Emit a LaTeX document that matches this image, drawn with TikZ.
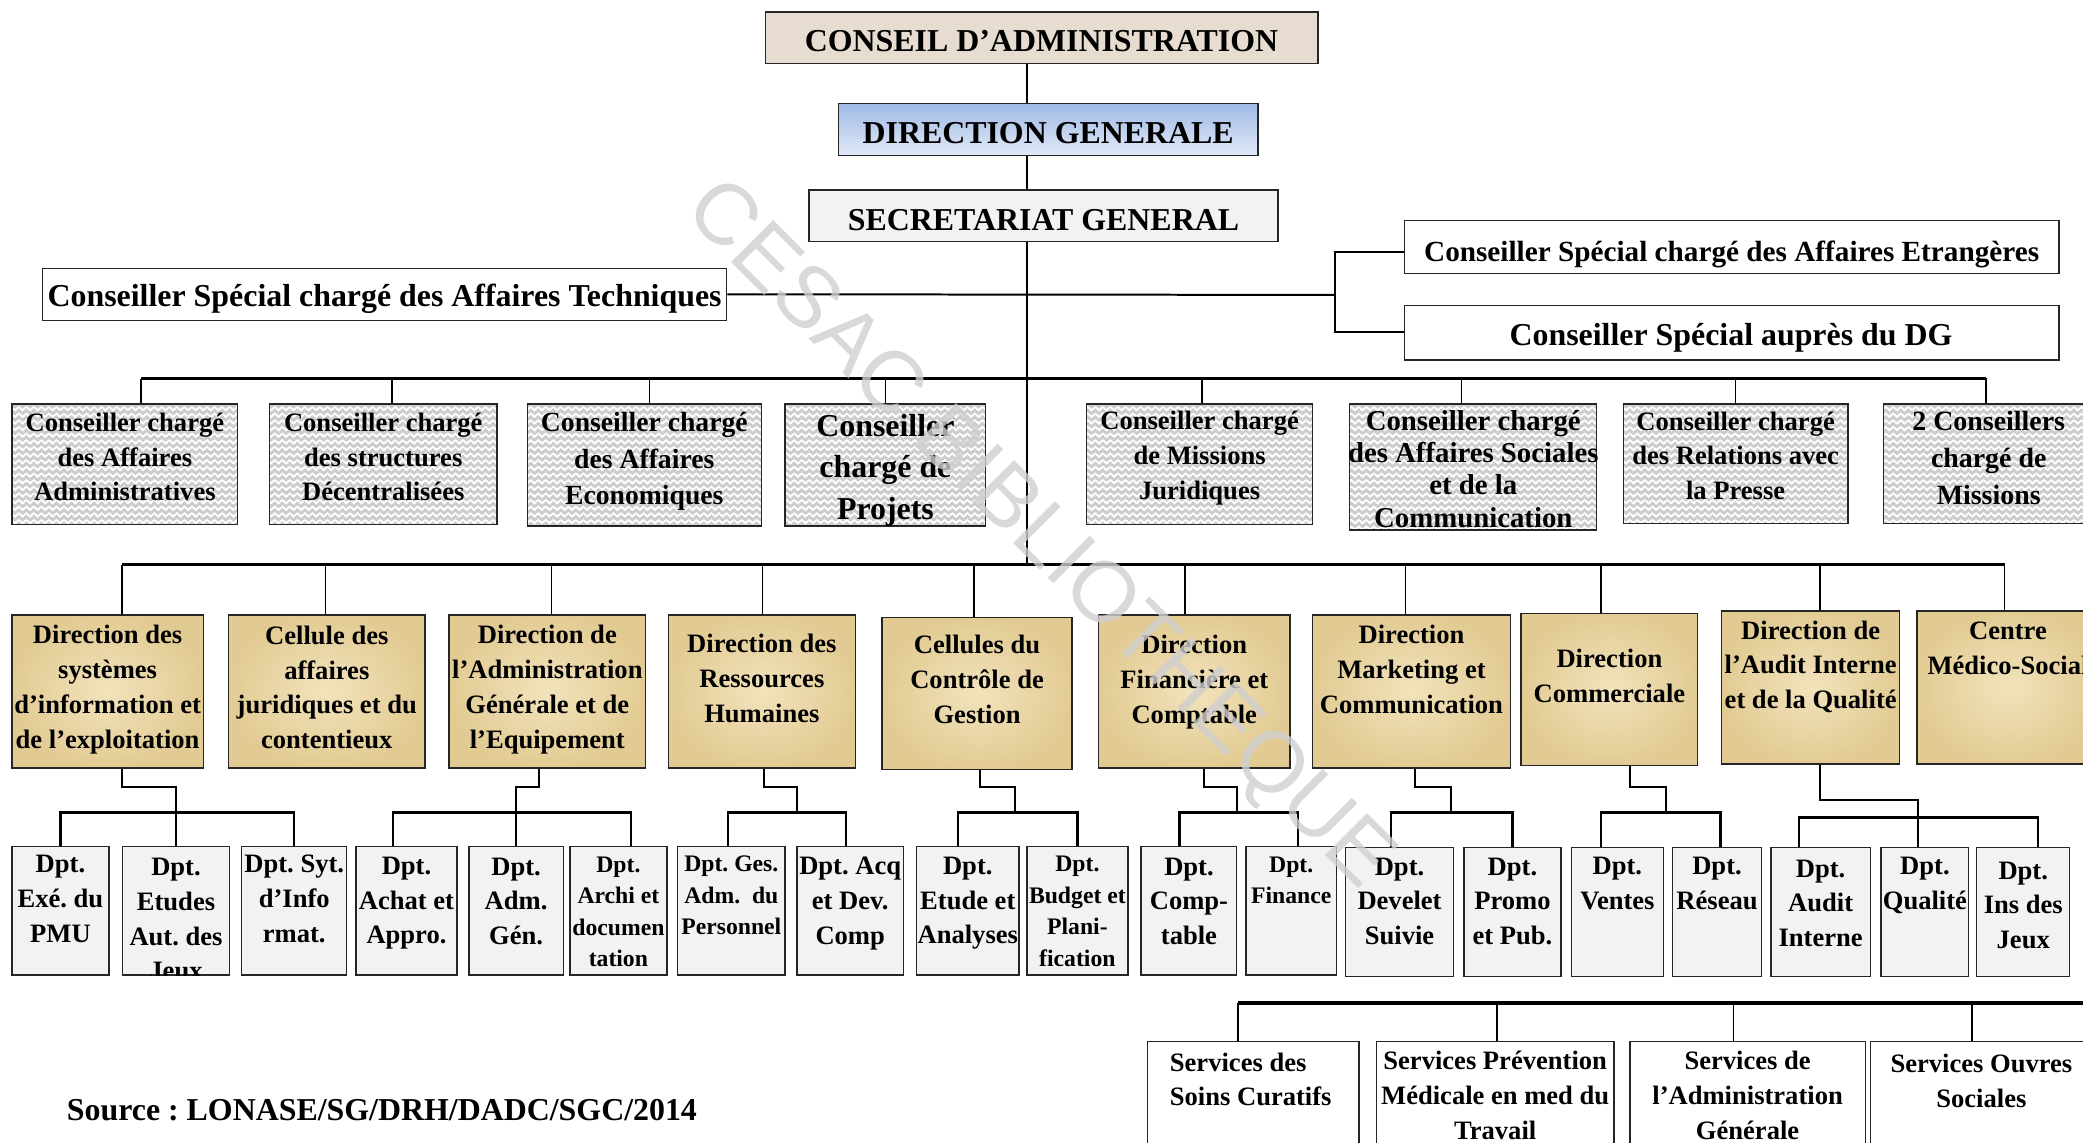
\documentclass[tikz,border=0pt]{standalone}
\usepackage{fontspec}
\setmainfont{Liberation Serif}
\newfontfamily\wmfont{Liberation Sans}
\usetikzlibrary{calc,fit,patterns,backgrounds}
\frenchspacing

\definecolor{caFill}{HTML}{E6DDD0}
\definecolor{dgTop}{HTML}{9FB9E6}
\definecolor{dgBot}{HTML}{E2EAF7}
\definecolor{sgFill}{HTML}{F2F2F2}
\definecolor{parchIn}{HTML}{F2E3BC}
\definecolor{parchOut}{HTML}{E2CB93}
\definecolor{csBg}{HTML}{CDCDCD}
\definecolor{dptFill}{HTML}{F2F2F2}
\definecolor{wmGray}{HTML}{CFCFCF}

% white zigzag lines laid over the grey advisers' boxes
\pgfdeclarepatternformonly{zigzag}{\pgfqpoint{-1pt}{0pt}}{\pgfqpoint{4.4pt}{3pt}}{\pgfqpoint{3.4pt}{3pt}}{%
  \pgfsetlinewidth{0.75pt}%
  \pgfpathmoveto{\pgfqpoint{-1pt}{1.6pt}}%
  \pgfpathlineto{\pgfqpoint{0pt}{0.7pt}}%
  \pgfpathlineto{\pgfqpoint{1.7pt}{2.2pt}}%
  \pgfpathlineto{\pgfqpoint{3.4pt}{0.7pt}}%
  \pgfpathlineto{\pgfqpoint{4.4pt}{1.6pt}}%
  \pgfusepath{stroke}%
}

\newcommand\orgfont[2]{\fontsize{#1}{#2}\selectfont\bfseries}

\tikzset{
  frame/.style={draw=black!85, line width=0.6pt, inner sep=0pt},
  caBox/.style={frame, fill=caFill},
  dgBox/.style={frame, top color=dgTop, bottom color=dgBot},
  sgBox/.style={frame, fill=sgFill},
  whiteBox/.style={frame, fill=white},
  advBox/.style={frame, preaction={fill=csBg}, pattern=zigzag, pattern color=white},
  dirBox/.style={frame, inner color=parchIn, outer color=parchOut},
  dptBox/.style={frame, fill=dptFill},
  tx/.style={inner sep=0pt, align=center},
  f144/.style={tx, font=\orgfont{14.4}{18.9}},
  f132/.style={tx, font=\orgfont{13.2}{16}},
  f13/.style={tx, font=\orgfont{13}{14.6}},
  f126/.style={tx, font=\orgfont{12.6}{16.8}},
  f125/.style={tx, font=\orgfont{12.5}{16.5}},
  f12/.style={tx, font=\orgfont{12}{15.7}},
  f107/.style={tx, font=\orgfont{10.7}{14.2}},
  trunk/.style={line width=0.9pt},
  bus/.style={line width=1.5pt},
  tick/.style={line width=0.7pt},
  elb/.style={line width=0.9pt},
  brk/.style={line width=1.1pt},
}

\begin{document}
\begin{tikzpicture}[x=0.6pt, y=-0.6pt]
\useasboundingbox (0,0) rectangle (1568,860);
\clip (0,0) rectangle (1568,860);

% ---------- top of the hierarchy ----------
\node[caBox, fit={(576,9) (992,48)}] (ca) {};
\node[dgBox, fit={(631,78) (947,117)}] (dg) {};
\node[sgBox, fit={(609,143) (962,182)}] (sg) {};
\node[f144] (cat) at (784,31) {CONSEIL D’ADMINISTRATION};
\node[f144] (dgt) at (789,100.5) {DIRECTION GENERALE};
\node[f144] (sgt) at (785.5,166) {SECRETARIAT GENERAL};

% ---------- special advisers ----------
\node[whiteBox, fit={(32,202) (547,241)}] (cst) {};
\node[whiteBox, fit={(1057,166) (1550,206)}] (cse) {};
\node[whiteBox, fit={(1057,230) (1550,271)}] (csdg) {};
\node[f144] (cstt) at (289.5,225) {Conseiller Spécial chargé des Affaires Techniques};
\node[f132] (cset) at (1303.5,191.5) {Conseiller Spécial chargé des Affaires Etrangères};
\node[f144] (csdgt) at (1303,254) {Conseiller Spécial auprès du DG};

% ---------- advisers ----------
\node[advBox, fit={(9,304) (179,395)}] (c1) {};
\node[advBox, fit={(203,304) (374,395)}] (c2) {};
\node[advBox, fit={(397,304) (573,396)}] (c3) {};
\node[advBox, fit={(591,304) (742,396)}] (c4) {};
\node[advBox, fit={(818,304) (988,395)}] (c5) {};
\node[advBox, fit={(1016,304) (1202,399)}] (c6) {};
\node[advBox, fit={(1222,304) (1391,394)}] (c7) {};
\node[advBox, fit={(1418,304) (1576,394)}] (c8) {};
\node[f12] (c1t) at (94,344) {Conseiller chargé\\des Affaires\\Administratives};
\node[f12] (c2t) at (288.5,344) {Conseiller chargé\\des structures\\Décentralisées};
\node[f125] (c3t) at (485,347.5) {Conseiller chargé\\des Affaires\\Economiques};
\node[f144] (c4t) at (666.5,354) {Conseiller\\chargé de\\Projets};
\node[f12] (c5t) at (903,345) {Conseiller chargé\\de Missions\\Juridiques};
\node[f13] (c6t) at (1109,353) {Conseiller chargé\\des Affaires Sociales\\et de la\\Communication};
\node[f12] (c7t) at (1306.5,343) {Conseiller chargé\\des Relations avec\\la Presse};
\node[f126] (c8t) at (1497,344.5) {2 Conseillers\\chargé de\\Missions};

% ---------- directions ----------
\node[dirBox, fit={(9,463) (153,578)}] (d1) {};
\node[dirBox, fit={(172,463) (320,578)}] (d2) {};
\node[dirBox, fit={(338,463) (486,578)}] (d3) {};
\node[dirBox, fit={(503,463) (644,578)}] (d4) {};
\node[dirBox, fit={(664,465) (807,579)}] (d5) {};
\node[dirBox, fit={(827,463) (971,578)}] (d6) {};
\node[dirBox, fit={(988,463) (1137,578)}] (d7) {};
\node[dirBox, fit={(1145,462) (1278,576)}] (d8) {};
\node[dirBox, fit={(1296,460) (1430,575)}] (d9) {};
\node[dirBox, fit={(1443,460) (1580,575)}] (d10) {};
\node[f12] (d1t) at (81,519) {Direction des\\systèmes\\d’information et\\de l’exploitation};
\node[f12] (d2t) at (246,517.5) {Cellule des\\affaires\\juridiques et du\\contentieux};
\node[f12] (d3t) at (412,519) {Direction de\\l’Administration\\Générale et de\\l’Equipement};
\node[f12] (d4t) at (573.5,510.5) {Direction des\\Ressources\\Humaines};
\node[f12] (d5t) at (735.5,511.5) {Cellules du\\Contrôle de\\Gestion};
\node[f12] (d6t) at (899,513.5) {Direction\\Financière et\\Comptable};
\node[f12] (d7t) at (1062.5,504) {Direction\\Marketing et\\Communication};
\node[f12] (d8t) at (1211.5,509) {Direction\\Commerciale};
\node[f12] (d9t) at (1363,502) {Direction de\\l’Audit Interne\\et de la Qualité};
\node[f12] (d10t) at (1511.5,488) {Centre\\Médico-Social};

% ---------- departments ----------
\node[dptBox, fit={(9,637) (82,734)}] (dp1) {};
\node[dptBox, fit={(92,637) (173,734)}] (dp2) {};
\node[dptBox, fit={(182,637) (261,734)}] (dp3) {};
\node[dptBox, fit={(268,637) (344,734)}] (dp4) {};
\node[dptBox, fit={(353,637) (424,734)}] (dp5) {};
\node[dptBox, fit={(429,637) (502,734)}] (dp6) {};
\node[dptBox, fit={(510,637) (591,734)}] (dp7) {};
\node[dptBox, fit={(600,637) (680,734)}] (dp8) {};
\node[dptBox, fit={(690,637) (767,734)}] (dp9) {};
\node[dptBox, fit={(773,637) (849,734)}] (dp10) {};
\node[dptBox, fit={(859,637) (931,734)}] (dp11) {};
\node[dptBox, fit={(938,637) (1006,734)}] (dp12) {};
\node[dptBox, fit={(1013,638) (1094,735)}] (dp13) {};
\node[dptBox, fit={(1102,638) (1175,735)}] (dp14) {};
\node[dptBox, fit={(1183,638) (1252,735)}] (dp15) {};
\node[dptBox, fit={(1259,638) (1326,735)}] (dp16) {};
\node[dptBox, fit={(1333,638) (1408,735)}] (dp17) {};
\node[dptBox, fit={(1416,638) (1482,735)}] (dp18) {};
\node[dptBox, fit={(1488,638) (1558,735)}] (dp19) {};
\node[f12] (dp1t) at (45.5,676.5) {Dpt.\\Exé. du\\PMU};
\begin{scope}
  \clip (dp2.south west) rectangle (dp2.north east);
  \node[f12] (dp2t) at (132.5,692) {Dpt.\\Etudes\\Aut. des\\Jeux};
\end{scope}
\node[f12] (dp3t) at (221.5,676.5) {Dpt. Syt.\\d’Info\\rmat.};
\node[f12] (dp4t) at (306,680) {Dpt.\\Achat et\\Appro.};
\node[f12] (dp5t) at (388.5,678.5) {Dpt.\\Adm.\\Gén.};
\node[f107] (dp6t) at (465.5,686.5) {Dpt.\\Archi et\\documen\\tation};
\node[f107] (dp7t) at (550.5,674) {Dpt. Ges.\\Adm.\enspace du\\Personnel};
\node[f12] (dp8t) at (640,680) {Dpt. Acq\\et Dev.\\Comp};
\node[f12] (dp9t) at (728.5,680) {Dpt.\\Etude et\\Analyses};
\node[f107] (dp10t) at (811,686) {Dpt.\\Budget et\\Plani-\\fication};
\node[f12] (dp11t) at (895,678.5) {Dpt.\\Comp-\\table};
\node[f107] (dp12t) at (972,662.5) {Dpt.\\Finance};
\node[f12] (dp13t) at (1053.5,678.5) {Dpt.\\Develet\\Suivie};
\node[f12] (dp14t) at (1138.5,678.5) {Dpt.\\Promo\\et Pub.};
\node[f12] (dp15t) at (1217.5,665) {Dpt.\\Ventes};
\node[f12] (dp16t) at (1292.5,665) {Dpt.\\Réseau};
\node[f12] (dp17t) at (1370.5,680) {Dpt.\\Audit\\Interne};
\node[f12] (dp18t) at (1449,666.5) {Dpt.\\Qualité};
\node[f12] (dp19t) at (1523,681.5) {Dpt.\\Ins des\\Jeux};

% ---------- medical and social services ----------
\node[whiteBox, fit={(864,784) (1023,880)}] (s1) {};
\node[whiteBox, fit={(1036,784) (1215,880)}] (s2) {};
\node[whiteBox, fit={(1227,784) (1404,880)}] (s3) {};
\node[whiteBox, fit={(1408,784) (1576,880)}] (s4) {};
\node[f12, align=left] (s1t) at (941.5,812.5) {Services des\\Soins Curatifs};
\node[f12] (s2t) at (1125.5,824.5) {Services Prévention\\Médicale en med du\\Travail};
\node[f12] (s3t) at (1315.5,824.5) {Services de\\l’Administration\\Générale};
\node[f12] (s4t) at (1491.5,813.5) {Services Ouvres\\Sociales};

\node[f144] (src) at (287.5,836) {Source : LONASE/SG/DRH/DADC/SGC/2014};

% ---------- connectors ----------
\coordinate (tx) at (773,0);
\coordinate (br) at (1005,222);
\coordinate (b1L) at (106,285);
\coordinate (b1R) at (1495,285);
\coordinate (b2L) at (92,425);
\coordinate (b2R) at (1509,425);
\coordinate (sbL) at (932,755);
\coordinate (sbR) at (1570,755);

\begin{pgfonlayer}{background}
  \draw[trunk] (ca.south -| tx) -- (dg.north -| tx);
  \draw[trunk] (dg.south -| tx) -- (sg.north -| tx);
  \draw[trunk] (sg.south -| tx) -- (b2L -| tx);

  \draw[trunk] (cst.east) -- (br);
  \draw[trunk] ($(cse.west)+(0,4)$) -| (br) |- ($(csdg.west)+(0,-0.5)$);

  \draw[bus] (b1L) -- (b1R);
  \draw[tick] ($(c1.north)+(12,0)$) |- (b1L);
  \draw[tick] ($(c2.north)+(6.5,0)$) |- (b1L);
  \draw[tick] ($(c3.north)+(4,0)$) |- (b1L);
  \draw[tick] (c4.north) |- (b1L);
  \draw[tick] ($(c5.north)+(2,0)$) |- (b1L);
  \draw[tick] ($(c6.north)+(-9,0)$) |- (b1L);
  \draw[tick] (c7.north) |- (b1L);
  \draw[tick] ($(c8.north)+(-2,0)$) |- (b1L);

  \draw[bus] (b2L) -- (b2R);
  \draw[tick] ($(d1.north)+(11,0)$) |- (b2L);
  \draw[tick] ($(d2.north)+(-1,0)$) |- (b2L);
  \draw[tick] ($(d3.north)+(3,0)$) |- (b2L);
  \draw[tick] ($(d4.north)+(0.5,0)$) |- (b2L);
  \draw[tick] ($(d5.north)+(-2.5,0)$) |- (b2L);
  \draw[tick] ($(d6.north)+(-7,0)$) |- (b2L);
  \draw[tick] ($(d7.north)+(-4.5,0)$) |- (b2L);
  \draw[tick] ($(d8.north)+(-6.5,0)$) |- (b2L);
  \draw[tick] ($(d9.north)+(7,0)$) |- (b2L);
  \draw[tick] ($(d10.north)+(-2.5,0)$) |- (b2L);

  % directions down to their departments
  \draw[elb] ($(d1.south)+(11,0)$) -- ++(0,14) -| (dp2.north);
  \draw[brk] (dp1.north) -- ++(0,-25) -| (dp3.north);

  \draw[elb] ($(d3.south)+(-6,0)$) -- ++(0,14) -| (dp5.north);
  \draw[brk] ($(dp4.north)+(-10,0)$) -- ++(0,-25) -| ($(dp6.north)+(9.5,0)$);

  \draw[elb] ($(d4.south)+(1.5,0)$) -- ++(0,14) -- ++(25,0) -- ++(0,20);
  \draw[brk] ($(dp7.north)+(-2.5,0)$) -- ++(0,-25) -| ($(dp8.north)+(-3,0)$);

  \draw[elb] ($(d5.south)+(2.5,0)$) -- ++(0,13) -- ++(26,0) -- ++(0,20);
  \draw[brk] ($(dp9.north)+(-7.5,0)$) -- ++(0,-25) -| (dp10.north);

  \draw[elb] ($(d6.south)+(7,0)$) -- ++(0,14) -- ++(25,0) -- ++(0,20);
  \draw[brk] ($(dp11.north)+(-7,0)$) -- ++(0,-25) -| ($(dp12.north)+(5,0)$);

  \draw[elb] ($(d7.south)+(2.5,0)$) -- ++(0,14) -- ++(27,0) -- ++(0,20);
  \draw[brk] ($(dp13.north)+(-6.5,0)$) -- ++(0,-26) -| (dp14.north);

  \draw[elb] ($(d8.south)+(15.5,0)$) -- ++(0,16) -- ++(27,0) -- ++(0,20);
  \draw[brk] ($(dp15.north)+(-12.5,0)$) -- ++(0,-26) -| ($(dp16.north)+(2.5,0)$);

  \draw[elb] ($(d9.south)+(7,0)$) -- ++(0,27) -| ($(dp18.north)+(-5,0)$);
  \draw[brk] ($(dp17.north)+(-16.5,0)$) -- ++(0,-22) -| ($(dp19.north)+(11,0)$);

  % medical centre services
  \draw[bus] (sbL) -- (sbR);
  \draw[tick] ($(s1.north)+(-11.5,0)$) |- (sbL);
  \draw[tick] ($(s2.north)+(1.5,0)$) |- (sbL);
  \draw[tick] ($(s3.north)+(-10.5,0)$) |- (sbL);
  \draw[tick] ($(s4.north)+(-7.5,0)$) |- (sbL);
\end{pgfonlayer}

% ---------- library stamp across the chart ----------
\node[font=\wmfont\fontsize{39}{39}\selectfont, text=wmGray, text opacity=0.8, rotate=-45, inner sep=0pt] (wm) at (781,404) {CESAC BIBLIOTHEQUE};
\end{tikzpicture}
\end{document}
